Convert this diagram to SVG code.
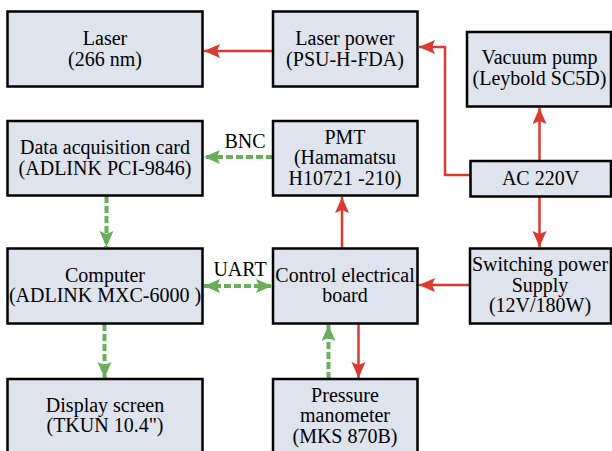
<svg xmlns="http://www.w3.org/2000/svg" width="612" height="451" viewBox="0 0 612 451">
<defs>
<style>
.box{fill:#dee3ee;stroke:#000;stroke-width:2.5}
text{font-family:"Liberation Serif","Times New Roman",serif;font-size:20px;fill:#000;text-anchor:middle}
.red{fill:none;stroke:#d93a32;stroke-width:2.5}
.grn{fill:none;stroke:#6aad5a;stroke-width:4;stroke-dasharray:7 3}
</style>
<marker id="ar" markerUnits="userSpaceOnUse" markerWidth="17" markerHeight="15" refX="16" refY="7" orient="auto-start-reverse" viewBox="0 0 17 15">
<path d="M0,0 L16,7 L0,14 L3,7 z" fill="#d93a32"/>
</marker>
<marker id="ag" markerUnits="userSpaceOnUse" markerWidth="17" markerHeight="15" refX="16" refY="7" orient="auto-start-reverse" viewBox="0 0 17 15">
<path d="M0,0 L16,7 L0,14 L3,7 z" fill="#6aad5a"/>
</marker>
</defs>
<rect width="612" height="451" fill="#fff"/>

<g id="connectors">
<line class="red" x1="273" y1="51" x2="204" y2="51" marker-end="url(#ar)"/>
<polyline class="red" points="470,175 445,175 445,47 419,47" marker-end="url(#ar)"/>
<line class="red" x1="539.5" y1="161" x2="539.5" y2="108" marker-end="url(#ar)"/>
<line class="red" x1="539.5" y1="197" x2="539.5" y2="247" marker-end="url(#ar)"/>
<line class="red" x1="469" y1="285" x2="419" y2="285" marker-end="url(#ar)"/>
<line class="red" x1="342" y1="248" x2="342" y2="197" marker-end="url(#ar)"/>
<line class="red" x1="358.5" y1="324" x2="358.5" y2="378" marker-end="url(#ar)"/>
<line class="grn" x1="273" y1="157" x2="204" y2="157" marker-end="url(#ag)"/>
<line class="grn" x1="106.5" y1="196" x2="106.5" y2="247" marker-end="url(#ag)"/>
<line class="grn" x1="204" y1="286" x2="272" y2="286" marker-start="url(#ag)" marker-end="url(#ag)"/>
<line class="grn" x1="104.5" y1="324" x2="104.5" y2="378" marker-end="url(#ag)"/>
<line class="grn" x1="328.5" y1="379" x2="328.5" y2="325" marker-end="url(#ag)"/>
<text x="245" y="148">BNC</text>
<text x="240" y="276">UART</text>
</g>

<g id="laser">
<rect class="box" x="7.5" y="11.5" width="195" height="75"/>
<text x="105" y="45">Laser</text>
<text x="105" y="65.5">(266 nm)</text>
</g>
<g id="laser-power">
<rect class="box" x="273" y="11.5" width="144.5" height="75"/>
<text x="345" y="45">Laser power</text>
<text x="345" y="65.5">(PSU-H-FDA)</text>
</g>
<g id="vacuum-pump">
<rect class="box" x="467" y="32" width="144" height="74.5"/>
<text x="539.5" y="64">Vacuum pump</text>
<text x="539.5" y="84.5">(Leybold SC5D)</text>
</g>
<g id="daq">
<rect class="box" x="7.5" y="121" width="195" height="74.5"/>
<text x="105" y="154">Data acquisition card</text>
<text x="105" y="174.5">(ADLINK PCI-9846)</text>
</g>
<g id="pmt">
<rect class="box" x="273" y="121" width="144.5" height="74.5"/>
<text x="345" y="144">PMT</text>
<text x="345" y="164">(Hamamatsu</text>
<text x="345" y="184.5">H10721 -210)</text>
</g>
<g id="ac">
<rect class="box" x="470.5" y="161" width="140.5" height="35.5"/>
<text x="540.5" y="185">AC 220V</text>
</g>
<g id="computer">
<rect class="box" x="7.5" y="248.5" width="195" height="75"/>
<text x="105" y="281.5">Computer</text>
<text x="105" y="302">(ADLINK MXC-6000 )</text>
</g>
<g id="control-board">
<rect class="box" x="273" y="248.5" width="144.5" height="75"/>
<text x="345" y="281.5">Control electrical</text>
<text x="345" y="302">board</text>
</g>
<g id="switching-power">
<rect class="box" x="470" y="248.5" width="141" height="75"/>
<text x="540" y="271">Switching power</text>
<text x="540" y="291.5">Supply</text>
<text x="540" y="312">(12V/180W)</text>
</g>
<g id="display">
<rect class="box" x="7.5" y="379" width="195" height="80"/>
<text x="105" y="411.5">Display screen</text>
<text x="105" y="432">(TKUN 10.4")</text>
</g>
<g id="pressure">
<rect class="box" x="273" y="379" width="144.5" height="80"/>
<text x="345" y="401.5">Pressure</text>
<text x="345" y="422">manometer</text>
<text x="345" y="442.5">(MKS 870B)</text>
</g>
</svg>
